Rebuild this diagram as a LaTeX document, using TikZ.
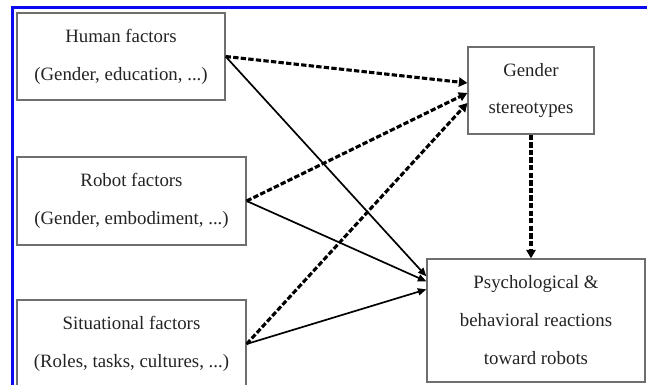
\documentclass[tikz,border=0pt]{standalone}
\usepackage{fontspec}
\setmainfont{Liberation Serif}
\usetikzlibrary{arrows.meta,calc}
\definecolor{boxgray}{RGB}{110,110,110}
\definecolor{txtgray}{RGB}{35,35,35}
\definecolor{framblue}{RGB}{10,10,240}
\begin{document}
\begin{tikzpicture}[x=0.025cm, y=-0.025cm,
  every node/.style={font=\fontsize{13.4}{27}\selectfont, text=txtgray},
  bx/.style={draw=boxgray, line width=0.9pt, align=center, inner sep=0pt},
  dsh/.style={-{Triangle[length=6pt,width=6.5pt]}, line width=2.2pt, dash pattern=on 3.8pt off 1.6pt},
  sld/.style={-{Triangle[length=6pt,width=5pt]}, line width=1.2pt}]
\useasboundingbox (0,0) rectangle (647,385);
% Frame
\draw[framblue, line width=2pt] (12.7,385) -- (12.7,7.5) -- (647,7.5);
% Factors
\node[bx, minimum width=208*0.025cm, minimum height=87*0.025cm] (human) at (121,56.5) {Human factors\\(Gender, education, ...)};
\node[bx, minimum width=229*0.025cm, minimum height=88*0.025cm] (robot) at (131.5,201) {Robot factors\\(Gender, embodiment, ...)};
\node[bx, minimum width=229*0.025cm, minimum height=88*0.025cm] (situ) at (131.5,344) {Situational factors\\(Roles, tasks, cultures, ...)};
% Stereotypes
\node[bx, minimum width=126*0.025cm, minimum height=87*0.025cm] (stereo) at (531,90.5) {Gender\\stereotypes};
% Reactions
\node[bx, minimum width=218*0.025cm, minimum height=123*0.025cm] (react) at (536,320.5) {Psychological \&\\behavioral reactions\\toward robots};
% Dashed paths
\draw[dsh] (human.east) -- ($(stereo.west)+(0,-7.5)$);
\draw[dsh] (robot.east) -- ($(stereo.west)+(0,2.5)$);
\draw[dsh] (situ.east) -- ($(stereo.west)+(0,12.5)$);
\draw[dsh] (stereo.south) -- (stereo.south |- react.north);
% Direct paths
\draw[sld] (human.east) -- ($(react.north west)+(0,18)$);
\draw[sld] (robot.east) -- ($(react.north west)+(0,23)$);
\draw[sld] (situ.east) -- ($(react.north west)+(0,31)$);
\end{tikzpicture}
\end{document}
